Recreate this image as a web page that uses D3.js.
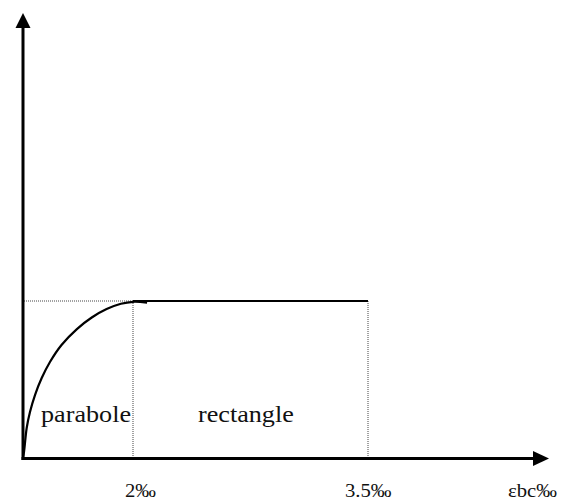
<!DOCTYPE html>
<html>
<head>
<meta charset="utf-8">
<script src="https://cdn.jsdelivr.net/npm/d3@7"></script>
<style>
  html, body { margin: 0; padding: 0; background: #fff; }
  svg { display: block; }
  svg text { font-family: "Liberation Serif", "Times New Roman", Tinos, "DejaVu Serif", "Noto Serif", serif !important; }
</style>
</head>
<body>
<svg id="chart" width="565" height="500"></svg>
<script>
// ---- data ----
const curveStrain = [0, 0.018, 0.067, 0.127, 0.218, 0.34, 0.49, 0.70, 0.98, 1.25, 1.52, 1.78, 2.0, 2.09];
const curveStress = [0, 0.032, 0.186, 0.288, 0.397, 0.506, 0.609, 0.718, 0.82, 0.894, 0.948, 0.982, 0.995, 0.99];
const plateauStrain = [2, 3.5];
const plateauStress = [1, 1];
const tickValues = [2, 3.5];
const tickLabels = ["2‰", "3.5‰"];
const axisLabel = "εbc‰";
const regionLabels = ["parabole", "rectangle"];

// ---- scales (diagram is not drawn to scale: piecewise linear) ----
const x = d3.scaleLinear().domain([0, 2, 3.5]).range([23, 133, 368]);
const y = d3.scaleLinear().domain([0, 1]).range([457, 301]);

const svg = d3.select("#chart");
svg.append("rect").attr("width", 565).attr("height", 500).attr("fill", "#fff");

const x0 = x(0), y0 = 458.5;
const xEnd = 549, yTop = 13;

// dotted guide lines
function guide(x1, y1, x2, y2) {
  svg.append("line").attr("x1", x1).attr("y1", y1).attr("x2", x2).attr("y2", y2)
    .attr("stroke", "#444").attr("stroke-width", 1).attr("stroke-dasharray", "1,1");
}
guide(x0 + 1, y(1), x(2), y(1));
tickValues.forEach(v => guide(x(v), y(1), x(v), y0));

// axes
svg.append("line").attr("x1", x0).attr("y1", y0 + 1.5).attr("x2", x0).attr("y2", 27)
  .attr("stroke", "#000").attr("stroke-width", 3);
svg.append("path").attr("d", `M${x0},${yTop} L${x0 - 7.5},${yTop + 15} L${x0 + 7.5},${yTop + 15} Z`).attr("fill", "#000");
svg.append("line").attr("x1", x0 - 1.5).attr("y1", y0).attr("x2", xEnd - 15).attr("y2", y0)
  .attr("stroke", "#000").attr("stroke-width", 3);
svg.append("path").attr("d", `M${xEnd},${y0} L${xEnd - 16},${y0 - 7.5} L${xEnd - 16},${y0 + 7.5} Z`).attr("fill", "#000");

// parabola
const line = d3.line().x(d => x(d[0])).y(d => y(d[1])).curve(d3.curveCatmullRom.alpha(0.5));
svg.append("path")
  .attr("d", line(curveStrain.map((s, i) => [s, curveStress[i]])))
  .attr("fill", "none").attr("stroke", "#000").attr("stroke-width", 2.2);

// rectangle plateau
svg.append("path")
  .attr("d", d3.line().x(d => x(d[0])).y(d => y(d[1]))(plateauStrain.map((s, i) => [s, plateauStress[i]])))
  .attr("fill", "none").attr("stroke", "#000").attr("stroke-width", 2.2);

// text helper with slight horizontal stretch like the reference
function label(txt, tx, ty, size) {
  svg.append("text")
    .attr("transform", `translate(${tx},${ty}) scale(1.09,1)`)
    .style("font-family", "'Liberation Serif', 'Times New Roman', Tinos, 'DejaVu Serif', serif")
    .style("font-size", size + "px")
    .attr("fill", "#111")
    .text(txt);
}
label(regionLabels[0], 41, 422, 24);
label(regionLabels[1], 198, 422, 24);
label(tickLabels[0], x(tickValues[0]) - 8, 497, 19);
label(tickLabels[1], x(tickValues[1]) - 23, 497, 19);
label(axisLabel, 508, 497, 19);
</script>
</body>
</html>
